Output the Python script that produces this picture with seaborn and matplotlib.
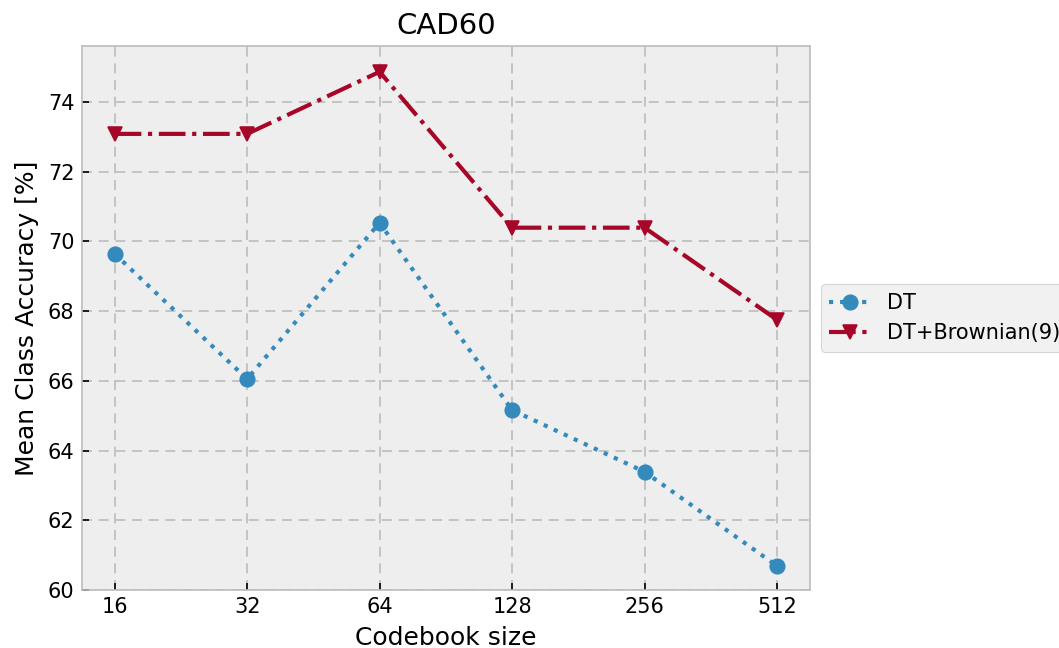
import numpy as np
import pandas as pd
import matplotlib
matplotlib.use('Agg')
import matplotlib.pyplot as plt
import seaborn as sns

# data
codebook = ['16', '32', '64', '128', '256', '512']
dt = [69.64, 66.05, 70.53, 65.16, 63.39, 60.69]
dt_brownian = [73.08, 73.08, 74.86, 70.39, 70.39, 67.75]

plt.style.use('bmh')
plt.rcParams['font.family'] = ['DejaVu Sans']

pos = np.arange(len(codebook))
df = pd.DataFrame({'pos': np.concatenate([pos, pos]),
                   'acc': dt + dt_brownian,
                   'method': ['DT'] * len(dt) + ['DT+Brownian(9)'] * len(dt_brownian)})

fig, ax = plt.subplots(figsize=(7.06, 4.32), dpi=150)
fig.subplots_adjust(left=0.077, right=0.765, top=0.929, bottom=0.0895)

sns.lineplot(data=df[df.method == 'DT'], x='pos', y='acc', ax=ax, color='#348ABD',
             linestyle=':', marker='o', markersize=7, linewidth=2, label='DT',
             markeredgecolor='#348ABD')
sns.lineplot(data=df[df.method == 'DT+Brownian(9)'], x='pos', y='acc', ax=ax, color='#A60628',
             linestyle='-.', marker='v', markersize=7, linewidth=2, label='DT+Brownian(9)',
             markeredgecolor='#A60628')

ax.grid(True, linestyle=(0, (6, 4)), color='#bcbcbc', linewidth=0.8)
ax.set_xticks(pos)
ax.set_xticklabels(codebook)
ax.set_xlim(-0.25, 5.25)
ax.set_ylim(60, 75.6)
ax.set_yticks(np.arange(60, 75, 2))
ax.set_title('CAD60', fontsize=14)
ax.set_xlabel('Codebook size', fontsize=12)
ax.set_ylabel('Mean Class Accuracy [%]', fontsize=12)
ax.tick_params(labelsize=10)
ax.legend(loc='center left', bbox_to_anchor=(1.0, 0.5), fontsize=10)

fig.savefig('out.png', dpi=150)
